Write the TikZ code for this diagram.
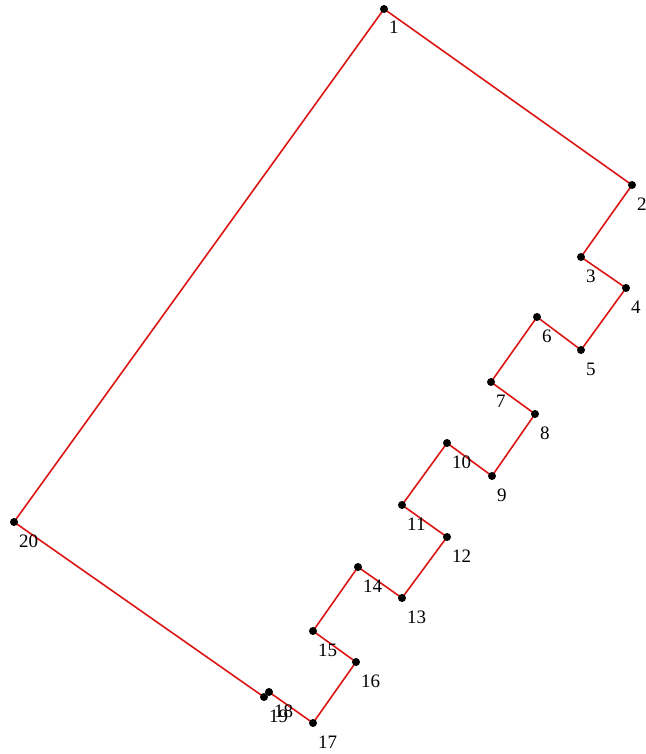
\documentclass[tikz,border=0pt]{standalone}
\usepackage{fontspec}
\setmainfont{Liberation Serif}
\begin{document}
\begin{tikzpicture}[x=1pt,y=-1pt,
  edge/.style={draw={rgb,255:red,220;green,20;blue,20}, line width=1.6pt, line join=round},
  dot/.style={circle, fill=black, inner sep=0pt, minimum size=8pt},
  lbl/.style={anchor=base west, inner sep=0pt, font=\fontsize{19}{19}\selectfont}]
\useasboundingbox (0,0) rectangle (645,754);
\foreach \n/\x/\y in {1/384/9, 2/632/185, 3/581/257, 4/626/288, 5/581/350,
  6/537/317, 7/491/382, 8/535/414, 9/492/476, 10/447/443, 11/402/505,
  12/447/537, 13/402/598, 14/358/567, 15/313/631, 16/356/662, 17/313/723,
  18/269/692, 19/264/697, 20/14/522}
  {\coordinate (p\n) at (\x,\y);}
\draw[edge] (p1) -- (p2) -- (p3) -- (p4) -- (p5) -- (p6) -- (p7) -- (p8) -- (p9) -- (p10)
  -- (p11) -- (p12) -- (p13) -- (p14) -- (p15) -- (p16) -- (p17) -- (p18) -- (p19) -- (p20) -- cycle;
\foreach \n in {1,...,20}{
  \node[dot] (d\n) at (p\n) {};
  \node[lbl] (l\n) at ([xshift=5pt,yshift=-25pt]p\n) {\n};
}
\end{tikzpicture}
\end{document}
